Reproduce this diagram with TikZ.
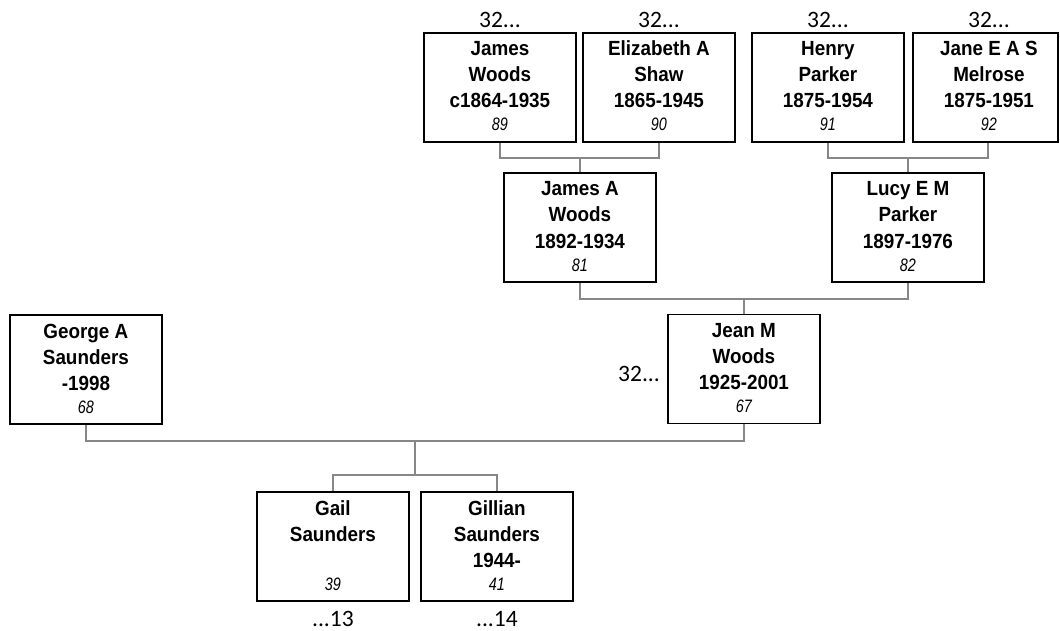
\documentclass[tikz,border=0pt]{standalone}
\usepackage{fontspec}
\setmainfont{Liberation Sans}
\newfontfamily\calib{Carlito}
\newfontfamily\namefont{Liberation Sans}[FakeStretch=0.92]
\newfontfamily\numfont{Liberation Sans}[FakeStretch=0.8]
\usetikzlibrary{calc}
\tikzset{
  box/.style={draw=black, line width=1.8pt, rectangle, inner sep=0pt, minimum height=109pt, anchor=north west},
  nm/.style={font=\namefont\bfseries\fontsize{20.5}{22}\selectfont, inner sep=0pt, anchor=base},
  numtxt/.style={font=\numfont\itshape\fontsize{18}{20}\selectfont, inner sep=0pt, anchor=base},
  reftxt/.style={font=\calib\fontsize{23.5}{26}\selectfont, inner sep=0pt},
  conn/.style={draw=black!47, line width=1.8pt},
}
% name, left, top, width, text x offset, line1, line2, line3, number
\newcommand\personbox[9]{%
  \node[box, minimum width=#4pt] (#1) at (#2,#3) {};
  \node[nm] (#1-a) at ($(#1.north)+(#5,24)$) {#6};
  \node[nm] (#1-b) at ($(#1.north)+(#5,50)$) {#7};
  \node[nm] (#1-c) at ($(#1.north)+(#5,76)$) {#8};
  \node[numtxt] (#1-n) at ($(#1.north)+(#5,99)$) {#9};
}
\begin{document}
\begin{tikzpicture}[x=1pt,y=-1pt]
\useasboundingbox (0,0) rectangle (1060,631);
% boxes
\personbox{p89}{423}{32}{152}{0}{James}{Woods}{c1864-1935}{89}
\personbox{p90}{582}{32}{152}{0}{Elizabeth A}{Shaw}{1865-1945}{90}
\personbox{p91}{751}{32}{152}{0}{Henry}{Parker}{1875-1954}{91}
\personbox{p92}{912}{32}{145}{3.5}{Jane E A S}{Melrose}{1875-1951}{92}
\personbox{p81}{503}{172}{152}{0}{James A}{Woods}{1892-1934}{81}
\personbox{p82}{831}{172}{152}{0}{Lucy E M}{Parker}{1897-1976}{82}
\personbox{p67}{667}{313.5}{152}{0}{Jean M}{Woods}{1925-2001}{67}
\personbox{p68}{9}{314}{152}{0}{George A}{Saunders}{-1998}{68}
\personbox{p39}{256}{491}{152}{0}{Gail}{Saunders}{}{39}
\personbox{p41}{420}{491}{152}{0}{Gillian}{Saunders}{1944-}{41}
% reference labels
\node[reftxt, anchor=base] (r89) at ($(p89.north)+(0,-4)$) {32...};
\node[reftxt, anchor=base] (r90) at ($(p90.north)+(0,-4)$) {32...};
\node[reftxt, anchor=base] (r91) at ($(p91.north)+(0,-4)$) {32...};
\node[reftxt, anchor=base] (r92) at ($(p92.north)+(3.5,-4)$) {32...};
\node[reftxt, anchor=base east] (r67) at (660,381) {32...};
\node[reftxt, anchor=base] (r39) at ($(p39.south)+(0,24.5)$) {...13};
\node[reftxt, anchor=base] (r41) at ($(p41.south)+(0,24.5)$) {...14};
% connectors
\draw[conn] (p89.south) -- ++(0,15) coordinate (a1) -| (p90.south);
\draw[conn] (p81.north) -- (p81.north |- a1);
\draw[conn] (p91.south) -- ++(0,15) coordinate (a2) -| (p92.south -| 988,0);
\draw[conn] (p82.north) -- (p82.north |- a2);
\draw[conn] (p81.south) -- ++(0,16) coordinate (a3) -| (p82.south);
\draw[conn] (p67.north) -- (p67.north |- a3);
\draw[conn] (p68.south) -- ++(0,16) coordinate (a4) -| (p67.south);
\coordinate (cm) at ($(a4)!0.5!(p67.south |- a4)$);
\draw[conn] (cm) -- ++(0,34) coordinate (a5);
\draw[conn] (p39.north) |- (a5) -| (p41.north);
\end{tikzpicture}
\end{document}
